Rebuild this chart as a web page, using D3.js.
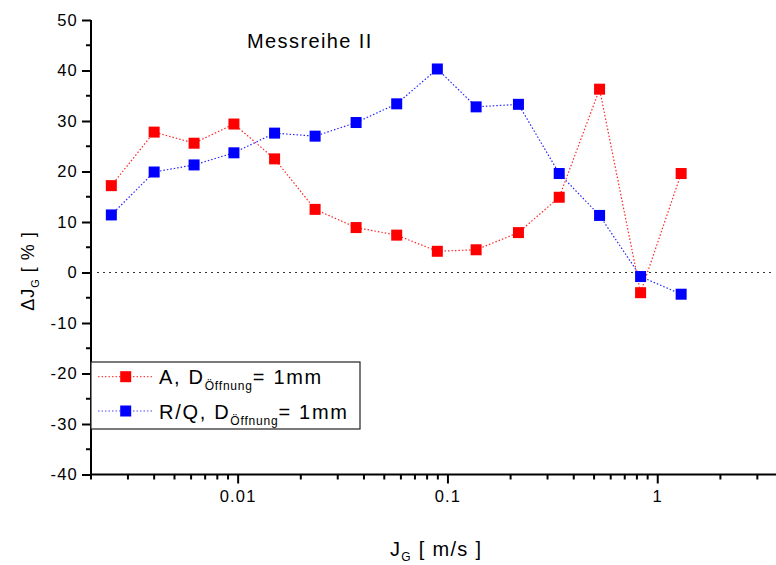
<!DOCTYPE html>
<html>
<head>
<meta charset="utf-8">
<script src="https://cdn.jsdelivr.net/npm/d3@7"></script>
<style>
  html, body { margin: 0; padding: 0; background: #fff; }
  svg { display: block; font-family: "Liberation Sans", Arial, sans-serif; }
</style>
</head>
<body>
<svg id="chart" width="776" height="565"></svg>
<script>
// ---- data ----
const jG = [0.0025, 0.004, 0.0062, 0.0096, 0.015, 0.0234, 0.0367, 0.0573, 0.0895, 0.137, 0.218, 0.341, 0.531, 0.833, 1.30];
const seriesA = [17.2, 27.8, 25.6, 29.4, 22.5, 12.5, 8.9, 7.4, 4.2, 4.5, 7.9, 14.9, 36.3, -4.0, 19.6];
const seriesRQ = [11.4, 19.9, 21.3, 23.7, 27.6, 27.0, 29.7, 33.4, 40.3, 32.8, 33.3, 19.6, 11.3, -0.8, -4.3];
const yTicks = [-40, -30, -20, -10, 0, 10, 20, 30, 40, 50];
const xTickLabels = [[0.01, "0.01"], [0.1, "0.1"], [1, "1"]];
const seriesNames = ["A, D", "R/Q, D"];

const svg = d3.select("#chart");
const x = d3.scaleLog().domain([0.002, 4]).range([91, 91 + Math.log10(2000) * 209.8]);
const y = d3.scaleLinear().domain([-40, 50]).range([474.5, 20]);

// zero line
svg.append("line")
  .attr("x1", x(0.002) + 6).attr("x2", 772)
  .attr("y1", y(0)).attr("y2", y(0))
  .attr("stroke", "#333").attr("stroke-width", 1.2)
  .attr("stroke-dasharray", "2,4");

// axes
const yMinor = d3.range(-40, 51, 5).filter(v => v % 10 !== 0);
const yAxis = d3.axisLeft(y).tickValues(yTicks).tickSize(9).tickPadding(4).tickFormat(d => String(d));
const yAx = svg.append("g").attr("transform", `translate(${x(0.002)},0)`).call(yAxis);
svg.append("g").selectAll("line").data(yMinor).join("line")
  .attr("x1", x(0.002) - 5).attr("x2", x(0.002))
  .attr("y1", d => y(d)).attr("y2", d => y(d))
  .attr("stroke", "#000").attr("stroke-width", 2);

const xAllTicks = [];
[0.001, 0.01, 0.1, 1].forEach(dec => { for (let k = 1; k <= 9; k++) { const v = +(dec * k).toPrecision(3); if (v >= 0.002 && v <= 4) xAllTicks.push(v); } });
const xMajor = xTickLabels.map(d => d[0]);
const xAxis = d3.axisBottom(x).tickValues(xMajor).tickSize(9).tickPadding(7)
  .tickFormat(v => xTickLabels.find(d => d[0] === v)[1]);
const xAx = svg.append("g").attr("transform", `translate(0,${y(-40)})`).call(xAxis);
svg.append("g").selectAll("line").data(xAllTicks.filter(v => !xMajor.includes(v))).join("line")
  .attr("x1", d => x(d)).attr("x2", d => x(d))
  .attr("y1", y(-40)).attr("y2", y(-40) + 5)
  .attr("stroke", "#000").attr("stroke-width", 2);

[yAx, xAx].forEach(g => {
  g.select(".domain").attr("stroke", "#000").attr("stroke-width", 2);
  g.selectAll(".tick line").attr("stroke", "#000").attr("stroke-width", 2);
  g.selectAll(".tick text").attr("fill", "#000").attr("font-size", 16.5)
    .attr("letter-spacing", 1.2)
    .attr("font-family", "'Liberation Sans', Arial, sans-serif");
});
yAx.select(".domain").attr("d", `M0,${y(50)}V${y(-40)}`);
xAx.select(".domain").attr("d", `M${x(0.002)},0H780`);

// series
const line = d3.line().x((d, i) => x(jG[i])).y(d => y(d));
const series = [
  { vals: seriesA, color: "#ff0000" },
  { vals: seriesRQ, color: "#0000ff" }
];
const ms = 11;
series.forEach(s => {
  svg.append("path").datum(s.vals).attr("d", line)
    .attr("fill", "none").attr("stroke", s.color).attr("stroke-width", 1.2)
    .attr("stroke-dasharray", "1.5,2").attr("opacity", 0.85);
});
series.forEach(s => {
  svg.append("g").selectAll("rect").data(s.vals).join("rect")
    .attr("x", (d, i) => x(jG[i]) - ms / 2).attr("y", d => y(d) - ms / 2)
    .attr("width", ms).attr("height", ms).attr("fill", s.color);
});

// title
svg.append("text").attr("x", 247).attr("y", 48).attr("font-size", 20)
  .attr("letter-spacing", 1.4).text("Messreihe II");

// y label
const yl = svg.append("text").attr("transform", "translate(33.5,271) rotate(-90)")
  .attr("text-anchor", "middle").attr("font-size", 18).attr("letter-spacing", 1);
yl.append("tspan").text("ΔJ");
yl.append("tspan").attr("font-size", 11).attr("dy", 5).text("G");
yl.append("tspan").attr("dy", -5).text(" [ % ]");

// x label
const xl = svg.append("text").attr("x", 390).attr("y", 556).attr("font-size", 20).attr("letter-spacing", 1.3);
xl.append("tspan").text("J");
xl.append("tspan").attr("font-size", 12).attr("dy", 5).text("G");
xl.append("tspan").attr("dy", -5).text(" [ m/s ]");

// legend
const lg = svg.append("g");
lg.append("rect").attr("x", 91).attr("y", 362).attr("width", 269).attr("height", 67)
  .attr("fill", "#fff").attr("stroke", "#222").attr("stroke-width", 1.2);
const rowsY = [376.7, 411];
series.forEach((s, i) => {
  lg.append("line").attr("x1", 98).attr("x2", 152).attr("y1", rowsY[i]).attr("y2", rowsY[i])
    .attr("stroke", s.color).attr("stroke-width", 1.2).attr("stroke-dasharray", "1.5,2").attr("opacity", 0.7);
  lg.append("rect").attr("x", 125.7 - ms / 2).attr("y", rowsY[i] - ms / 2).attr("width", ms).attr("height", ms).attr("fill", s.color);
  const t = lg.append("text").attr("x", 159).attr("y", rowsY[i] + 7.5).attr("font-size", 20).attr("letter-spacing", 1.7);
  t.append("tspan").text(seriesNames[i]);
  t.append("tspan").attr("font-size", 12).attr("letter-spacing", 0.8).attr("dy", 6).text("Öffnung");
  t.append("tspan").attr("dy", -6).text("= 1mm");
});
</script>
</body>
</html>
